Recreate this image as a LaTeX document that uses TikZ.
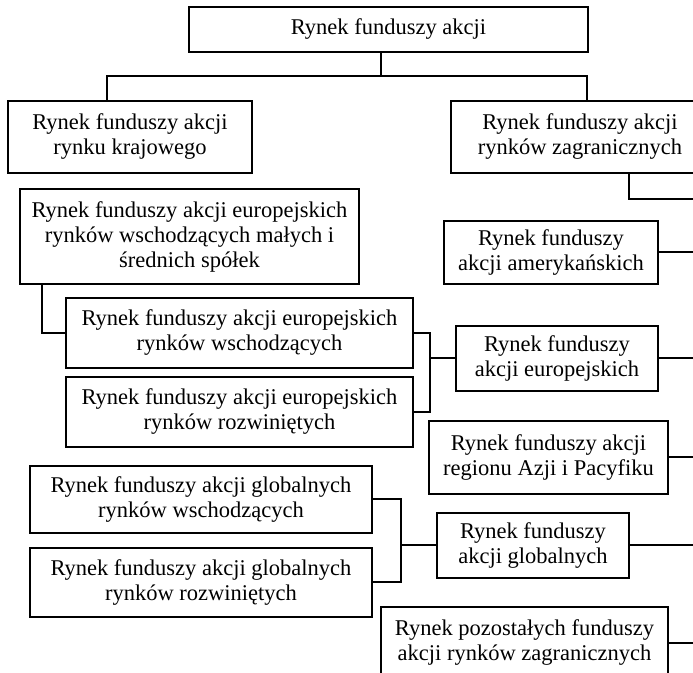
\documentclass[tikz,border=0pt]{standalone}
\usepackage{fontspec}
\setmainfont{Liberation Serif}
\usetikzlibrary{calc}

\begin{document}
\begin{tikzpicture}[
  x=0.5pt, y=-0.5pt,
  font=\fontsize{11.25}{12.5}\selectfont,
  mkt/.style={draw, line width=1pt, inner sep=0pt, outer sep=0pt, align=center},
  link/.style={line width=1pt},
]
\useasboundingbox (0,0) rectangle (693,673);
\clip (0,0) rectangle (693,673);

% =========================== top level ===========================
\node[mkt, minimum width=199.5pt, minimum height=22.5pt] (top) at (388.5, 29.5) {Rynek funduszy akcji};
\node[mkt, minimum width=122pt, minimum height=36pt] (dom) at (130, 137) {Rynek funduszy akcji\\rynku krajowego};
\node[mkt, minimum width=129pt, minimum height=36pt] (zagr) at (580, 137) {Rynek funduszy akcji\\rynków zagranicznych};

\draw[link] ($(top.south)+(-7.5,0)$) -- ++(0,24) coordinate (hub);
\draw[link] ($(dom.north)+(-23,0)$) |- (hub) -| ($(zagr.north)+(7,0)$);

% =========================== left: european ===========================
\node[mkt, minimum width=169.5pt, minimum height=47.5pt] (small) at (189.5, 236.5)
  {Rynek funduszy akcji europejskich\\rynków wschodzących małych i\\średnich spółek};
\node[mkt, minimum width=173.5pt, minimum height=35pt] (euEm) at (239.5, 333)
  {Rynek funduszy akcji europejskich\\rynków wschodzących};
\node[mkt, minimum width=173.5pt, minimum height=35pt] (euDev) at (239.5, 412)
  {Rynek funduszy akcji europejskich\\rynków rozwiniętych};

\draw[link] ($(small.south west)+(22,0)$) |- (euEm.west);
\draw[link] (euEm.east) -- ++(17,0) coordinate (euj) |- (euDev.east);

% =========================== left: global ===========================
\node[mkt, minimum width=171pt, minimum height=33.5pt] (glEm) at (201, 499.5)
  {Rynek funduszy akcji globalnych\\rynków wschodzących};
\node[mkt, minimum width=171pt, minimum height=34.5pt] (glDev) at (201, 582.5)
  {Rynek funduszy akcji globalnych\\rynków rozwiniętych};

\draw[link] (glEm.east) -- ++(29,0) coordinate (glj) |- (glDev.east);

% =========================== right column ===========================
\coordinate (bus) at (715, 199);
\draw[link] ($(zagr.south)+(49,0)$) |- (bus);

\node[mkt, minimum width=107pt, minimum height=31.5pt] (amer) at (551, 252.5) {Rynek funduszy\\akcji amerykańskich};
\node[mkt, minimum width=101pt, minimum height=32.5pt] (euro) at (557, 358.5) {Rynek funduszy\\akcji europejskich};
\node[mkt, minimum width=119.5pt, minimum height=36.5pt] (apac) at (548.5, 457.5) {Rynek funduszy akcji\\regionu Azji i Pacyfiku};
\node[mkt, minimum width=96pt, minimum height=32.5pt] (glob) at (533, 545.5) {Rynek funduszy\\akcji globalnych};
\node[mkt, minimum width=143.5pt, minimum height=36pt] (rest) at (524.5, 643)
  {Rynek pozostałych funduszy\\akcji rynków zagranicznych};

\draw[link] (euj |- euro.west) -- (euro.west);
\draw[link] (glj |- glob.west) -- (glob.west);
\foreach \m in {amer, euro, apac, glob, rest}{
  \draw[link] (\m.east) -- (\m.east -| bus);
}
\end{tikzpicture}
\end{document}
